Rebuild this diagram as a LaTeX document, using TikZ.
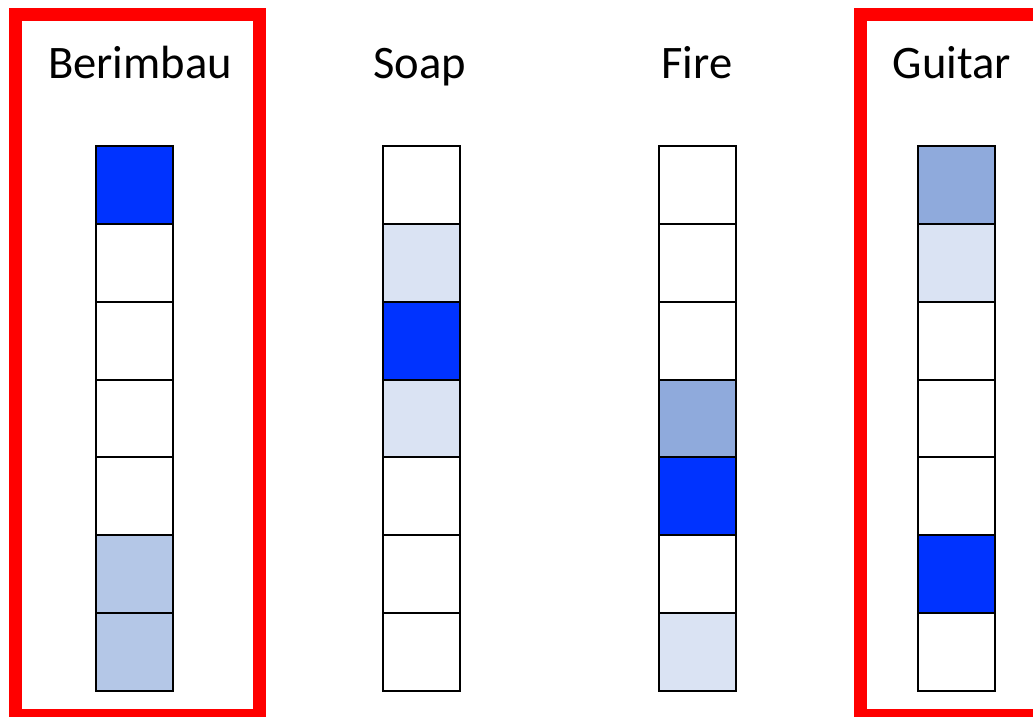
\documentclass[tikz,border=0pt]{standalone}
\usepackage{fontspec}
\setmainfont{Carlito}
\definecolor{deepblue}{HTML}{0033FF}
\definecolor{midblue}{HTML}{8FAADC}
\definecolor{softblue}{HTML}{B4C7E7}
\definecolor{paleblue}{HTML}{DAE3F3}
\begin{document}
\begin{tikzpicture}[x=1pt,y=-1pt,
  cellbox/.style={draw=black,line width=2pt,minimum width=77pt,minimum height=77.86pt,inner sep=0pt,outer sep=0pt},
  title/.style={anchor=base,inner sep=0pt,font=\fontsize{46.6}{56}\selectfont},
  frame/.style={draw=red,line width=13pt}]
\useasboundingbox (0,0) rectangle (1033,717);
% selection frames
\draw[frame] (15.5,14.5) rectangle (259.5,715.5);
\draw[frame] (860.5,14.5) rectangle (1045,715.5);
% column titles
\node[title] (t1) at (140,78) {Berimbau};
\node[title] (t2) at (420,78) {Soap};
\node[title] (t3) at (697,78) {Fire};
\node[title] (t4) at (952,78) {Guitar};
% cell stacks: column index / centre x / fills from top to bottom
\foreach \c/\x/\fills in {1/134/{deepblue,white,white,white,white,softblue,softblue},
                          2/421/{white,paleblue,deepblue,paleblue,white,white,white},
                          3/697/{white,white,white,midblue,deepblue,white,paleblue},
                          4/956/{midblue,paleblue,white,white,white,deepblue,white}}{
  \foreach \f [count=\r] in \fills {
    \node[cellbox,fill=\f] (c\c-\r) at (\x,{146+77.86*(\r-0.5)}) {};
  }
}
\end{tikzpicture}
\end{document}
